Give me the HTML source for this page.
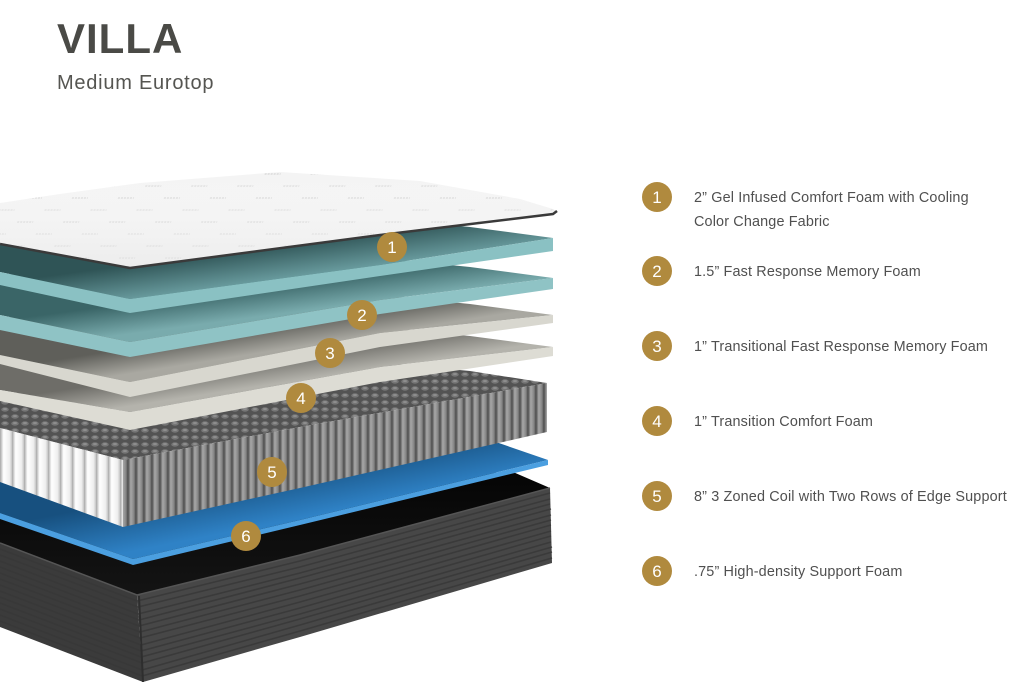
<!DOCTYPE html>
<html>
<head>
<meta charset="utf-8">
<style>
  html,body{margin:0;padding:0;background:#fff;}
  body{width:1036px;height:700px;overflow:hidden;}
  svg{display:block;}
</style>
</head>
<body>
<svg width="1036" height="700" viewBox="0 0 1036 700" xmlns="http://www.w3.org/2000/svg">
  <defs>
    <pattern id="quilt" patternUnits="userSpaceOnUse" width="46" height="24" patternTransform="skewX(-20)">
      <rect width="46" height="24" fill="#f4f4f4"/>
      <line x1="6" y1="6" x2="22" y2="6" stroke="#d4d4d4" stroke-width="1.2" stroke-dasharray="2 1"/>
      <line x1="29" y1="18" x2="45" y2="18" stroke="#d8d8d8" stroke-width="1.2" stroke-dasharray="2 1"/>
    </pattern>
    <linearGradient id="coverShade" x1="0" y1="0" x2="0" y2="1">
      <stop offset="0" stop-color="#ffffff" stop-opacity="0"/>
      <stop offset="1" stop-color="#e6e6e6" stop-opacity="0.6"/>
    </linearGradient>

    <linearGradient id="t1" gradientUnits="userSpaceOnUse" x1="380" y1="230" x2="385" y2="266">
      <stop offset="0" stop-color="#2f5456"/>
      <stop offset="1" stop-color="#6b9ea1"/>
    </linearGradient>
    <linearGradient id="t2" gradientUnits="userSpaceOnUse" x1="380" y1="270" x2="384" y2="300">
      <stop offset="0" stop-color="#3a6567"/>
      <stop offset="1" stop-color="#79abad"/>
    </linearGradient>
    <linearGradient id="t3" gradientUnits="userSpaceOnUse" x1="380" y1="308" x2="384" y2="333">
      <stop offset="0" stop-color="#5f5f5a"/>
      <stop offset="1" stop-color="#a9a8a1"/>
    </linearGradient>
    <linearGradient id="t4" gradientUnits="userSpaceOnUse" x1="380" y1="341" x2="384" y2="367">
      <stop offset="0" stop-color="#6e6d68"/>
      <stop offset="1" stop-color="#b4b3ac"/>
    </linearGradient>
    <linearGradient id="tBlue" gradientUnits="userSpaceOnUse" x1="380" y1="450" x2="390" y2="500">
      <stop offset="0" stop-color="#17507f"/>
      <stop offset="1" stop-color="#2f82c6"/>
    </linearGradient>
    <linearGradient id="interior" x1="0" y1="0" x2="0" y2="1">
      <stop offset="0" stop-color="#050505"/>
      <stop offset="1" stop-color="#141414"/>
    </linearGradient>

    <linearGradient id="stripeG" x1="0" y1="0" x2="1" y2="0">
      <stop offset="0" stop-color="#4e4e4e"/>
      <stop offset="0.35" stop-color="#a8a8a8"/>
      <stop offset="0.75" stop-color="#858585"/>
      <stop offset="1" stop-color="#4a4a4a"/>
    </linearGradient>
    <pattern id="coilFront" patternUnits="userSpaceOnUse" width="8" height="200">
      <rect width="8" height="200" fill="url(#stripeG)"/>
    </pattern>
    <linearGradient id="pocketG" x1="0" y1="0" x2="1" y2="0">
      <stop offset="0" stop-color="#a5a5a5"/>
      <stop offset="0.3" stop-color="#ffffff"/>
      <stop offset="0.8" stop-color="#eeeeee"/>
      <stop offset="1" stop-color="#c4c4c4"/>
    </linearGradient>
    <pattern id="coilSide" patternUnits="userSpaceOnUse" width="12" height="200">
      <rect width="12" height="200" fill="url(#pocketG)"/>
    </pattern>
    <pattern id="coilTop" patternUnits="userSpaceOnUse" width="10" height="7">
      <rect width="10" height="7" fill="#535353"/>
      <ellipse cx="5" cy="3.5" rx="3.8" ry="2.2" fill="#767676"/>
      <ellipse cx="5" cy="3" rx="2" ry="0.9" fill="#929292"/>
    </pattern>
  </defs>

  <!-- ============ BASE ============ -->
  <polygon points="0,490 513,472 550,488 300,555 137,595 0,543" fill="url(#interior)"/>
  <polygon points="0,543 137,595 143,682 0,627" fill="#3b3b3b"/>
  <polygon points="137,595 300,555 550,488 552,563 300,637 143,682" fill="#474747"/>
  <g fill="none" stroke="#383838" stroke-width="1.6" opacity="0.8">
    <polyline points="0,549 137,601 300,561 550,493"/>
    <polyline points="0,555 138,607 300,567 550,499"/>
    <polyline points="0,561 138,614 300,573 550,504"/>
    <polyline points="0,567 139,620 300,578 551,509"/>
    <polyline points="0,573 139,626 300,584 551,515"/>
    <polyline points="0,579 140,632 300,590 551,520"/>
    <polyline points="0,585 140,638 300,596 551,525"/>
    <polyline points="0,591 141,645 300,602 551,531"/>
    <polyline points="0,597 141,651 300,608 551,536"/>
    <polyline points="0,603 141,657 300,614 551,542"/>
    <polyline points="0,609 142,663 300,619 552,547"/>
    <polyline points="0,615 142,670 300,625 552,552"/>
    <polyline points="0,621 142,676 300,631 552,558"/>
  </g>
  <polyline points="0,543 137,595 300,555 550,488" fill="none" stroke="#555" stroke-width="1.5"/>
  <line x1="139" y1="596" x2="143" y2="682" stroke="#2e2e2e" stroke-width="2"/>

  <!-- ============ BLUE FOAM ============ -->
  <polygon points="0,470 490,440 548,460 300,520 133,559 0,513" fill="url(#tBlue)"/>
  <polygon points="0,513 133,559 300,520 548,460 548,465 300,525 133,565 0,519" fill="#4b9fe0"/>

  <!-- ============ COIL ============ -->
  <polygon points="0,395 300,355 470,371 547,383 300,427 123,460 0,428" fill="url(#coilTop)"/>
  <polygon points="123,460 300,427 547,383 547,432 300,488 123,527" fill="url(#coilFront)"/>
  <polygon points="0,428 123,460 123,527 0,482" fill="url(#coilSide)"/>

  <!-- ============ LAYER 4 ============ -->
  <polygon points="0,355 300,319 470,336 553,347 380,367 130,412 0,390" fill="url(#t4)"/>
  <polygon points="0,390 130,412 380,367 553,347 553,356 380,382 130,430 0,401" fill="#dddcd4"/>

  <!-- ============ LAYER 3 ============ -->
  <polygon points="0,318 300,287 470,304 553,315 380,333 130,382 0,355" fill="url(#t3)"/>
  <polygon points="0,355 130,382 380,333 553,315 553,323 380,347 130,397 0,364" fill="#d8d7cf"/>

  <!-- ============ LAYER 2 ============ -->
  <polygon points="0,275 300,250 470,267 553,278 380,300 130,342 0,315" fill="url(#t2)"/>
  <polygon points="0,315 130,342 380,300 553,278 553,289 380,314 130,357 0,330" fill="#8fc3c5"/>

  <!-- ============ LAYER 1 ============ -->
  <polygon points="0,215 300,210 470,227 553,238 380,265 130,299 0,272" fill="url(#t1)"/>
  <polygon points="0,272 130,299 380,265 553,238 553,251 380,276 130,313 0,285" fill="#8ac1c3"/>

  <!-- ============ COVER ============ -->
  <polygon points="0,203 60,194 140,183 280,172 420,181 520,199 553,209 557,212 553,214 380,235 130,268 0,244" fill="url(#quilt)"/>
  <polygon points="0,203 60,194 140,183 280,172 420,181 520,199 553,209 557,212 553,214 380,235 130,268 0,244" fill="url(#coverShade)"/>
  <polyline points="0,244 130,268 380,235 553,214 557,211" fill="none" stroke="#3a3a3a" stroke-width="2.5"/>

  <!-- ============ MATTRESS MARKERS ============ -->
  <g font-family="Liberation Sans, sans-serif" font-size="17" fill="#fff" text-anchor="middle">
    <circle cx="392" cy="247" r="15" fill="#b08a3e"/>
    <text x="392" y="253">1</text>
    <circle cx="362" cy="315" r="15" fill="#b08a3e"/>
    <text x="362" y="321">2</text>
    <circle cx="330" cy="353" r="15" fill="#b08a3e"/>
    <text x="330" y="359">3</text>
    <circle cx="301" cy="398" r="15" fill="#b08a3e"/>
    <text x="301" y="404">4</text>
    <circle cx="272" cy="472" r="15" fill="#b08a3e"/>
    <text x="272" y="478">5</text>
    <circle cx="246" cy="536" r="15" fill="#b08a3e"/>
    <text x="246" y="542">6</text>
  </g>

  <!-- ============ TITLE ============ -->
  <text x="57" y="53" font-family="Liberation Sans, sans-serif" font-weight="bold" font-size="42" letter-spacing="1" fill="#4a4a46">VILLA</text>
  <text x="57" y="89" font-family="Liberation Sans, sans-serif" font-size="20" letter-spacing="0.75" fill="#555551">Medium Eurotop</text>

  <!-- ============ LEGEND ============ -->
  <g font-family="Liberation Sans, sans-serif">
    <g fill="#b08a3e">
      <circle cx="657" cy="197" r="15"/>
      <circle cx="657" cy="271" r="15"/>
      <circle cx="657" cy="346" r="15"/>
      <circle cx="657" cy="421" r="15"/>
      <circle cx="657" cy="496" r="15"/>
      <circle cx="657" cy="571" r="15"/>
    </g>
    <g fill="#fff" font-size="17" text-anchor="middle">
      <text x="657" y="203">1</text>
      <text x="657" y="277">2</text>
      <text x="657" y="352">3</text>
      <text x="657" y="427">4</text>
      <text x="657" y="502">5</text>
      <text x="657" y="577">6</text>
    </g>
    <g fill="#505050" font-size="14.4" letter-spacing="0.15">
      <text x="694" y="202">2&#8221; Gel Infused Comfort Foam with Cooling</text>
      <text x="694" y="226">Color Change Fabric</text>
      <text x="694" y="276">1.5&#8221; Fast Response Memory Foam</text>
      <text x="694" y="351">1&#8221; Transitional Fast Response Memory Foam</text>
      <text x="694" y="426">1&#8221; Transition Comfort Foam</text>
      <text x="694" y="501">8&#8221; 3 Zoned Coil with Two Rows of Edge Support</text>
      <text x="694" y="576">.75&#8221; High-density Support Foam</text>
    </g>
  </g>
</svg>
</body>
</html>
